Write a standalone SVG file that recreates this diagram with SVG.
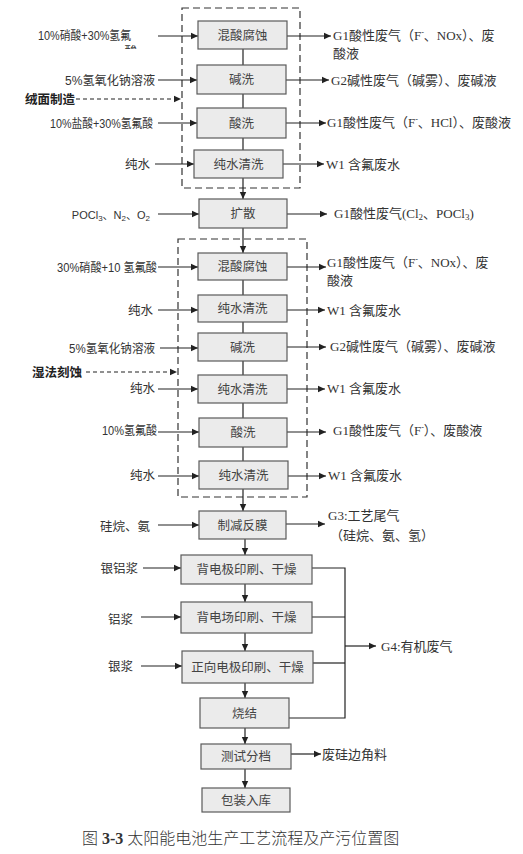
<svg xmlns="http://www.w3.org/2000/svg" width="523" height="854" viewBox="0 0 523 854">
<style>
.box{fill:#ebebeb;stroke:#5a5a5a;stroke-width:1.2}
.bt{font-family:"Liberation Sans","Noto Sans CJK SC",sans-serif;font-size:12.5px;fill:#444;text-anchor:middle}
.lt{font-family:"Liberation Sans","Noto Sans CJK SC",sans-serif;font-size:12.5px;fill:#333;text-anchor:end}
.rt{font-family:"Liberation Serif","Noto Sans CJK SC",serif;font-size:13px;fill:#333}
.bold{font-family:"Noto Sans CJK SC",sans-serif;font-size:12.5px;font-weight:bold;fill:#222}
.ln{stroke:#222;stroke-width:1.2;fill:none}
.ar{stroke:#222;stroke-width:1.2;fill:none;marker-end:url(#ah)}
.da{stroke:#222;stroke-width:1.2;fill:none;stroke-dasharray:4,3;marker-end:url(#ah)}
.dbox{stroke:#333;stroke-width:1.2;fill:none;stroke-dasharray:7,4}
.cap{font-family:"Liberation Serif","Noto Sans CJK SC",serif;font-size:16px;fill:#333;font-weight:300}
</style>
<defs>
<marker id="ah" markerWidth="8" markerHeight="8" refX="7" refY="4" orient="auto" markerUnits="userSpaceOnUse">
<path d="M0,0.8 L7,4 L0,7.2 Z" fill="#222"/>
</marker>
<clipPath id="clipfrag"><rect x="120" y="44" width="30" height="5"/></clipPath>
</defs>
<rect width="523" height="854" fill="#fff"/>

<g id="groups">
<rect class="dbox" x="182" y="8" width="118" height="180"/>
<rect class="dbox" x="178" y="239" width="129" height="258"/>
</g>

<g id="connectors">
<line class="ln" x1="243" y1="49" x2="243" y2="65"/>
<line class="ln" x1="243" y1="94" x2="243" y2="108"/>
<line class="ln" x1="243" y1="138" x2="243" y2="150"/>
<line class="ar" x1="243" y1="178" x2="243" y2="199"/>
<line class="ar" x1="243" y1="228" x2="243" y2="253"/>
<line class="ln" x1="243" y1="280" x2="243" y2="295"/>
<line class="ln" x1="243" y1="322" x2="243" y2="333"/>
<line class="ln" x1="243" y1="361" x2="243" y2="375"/>
<line class="ln" x1="243" y1="403" x2="243" y2="418"/>
<line class="ln" x1="243" y1="447" x2="243" y2="461"/>
<line class="ar" x1="243" y1="489" x2="243" y2="511"/>
<line class="ar" x1="245" y1="539" x2="245" y2="555"/>
<line class="ar" x1="245" y1="584" x2="245" y2="602"/>
<line class="ar" x1="245" y1="633" x2="245" y2="651"/>
<line class="ar" x1="245" y1="683" x2="245" y2="698"/>
<line class="ar" x1="245" y1="728" x2="245" y2="744"/>
<line class="ar" x1="245" y1="769" x2="245" y2="788"/>
<line class="ar" x1="158" y1="36" x2="198" y2="36"/>
<line class="ar" x1="158" y1="80" x2="197" y2="80"/>
<line class="da" x1="76" y1="99" x2="181" y2="99"/>
<line class="ar" x1="158" y1="123" x2="197" y2="123"/>
<line class="ar" x1="155" y1="164" x2="194" y2="164"/>
<line class="ar" x1="158" y1="214" x2="199" y2="214"/>
<line class="ar" x1="158" y1="267" x2="198" y2="267"/>
<line class="ar" x1="158" y1="310" x2="198" y2="310"/>
<line class="ar" x1="160" y1="348" x2="198" y2="348"/>
<line class="da" x1="86" y1="372" x2="177" y2="372"/>
<line class="ar" x1="158" y1="389" x2="198" y2="389"/>
<line class="ar" x1="158" y1="432" x2="199" y2="432"/>
<line class="ar" x1="158" y1="476" x2="199" y2="476"/>
<line class="ar" x1="158" y1="525" x2="199" y2="525"/>
<line class="ar" x1="143" y1="568" x2="181" y2="568"/>
<line class="ar" x1="141" y1="617" x2="181" y2="617"/>
<line class="ar" x1="141" y1="666" x2="182" y2="666"/>
<line class="ar" x1="287" y1="36" x2="331" y2="36"/>
<line class="ar" x1="286" y1="80" x2="329" y2="80"/>
<line class="ar" x1="286" y1="123" x2="326" y2="123"/>
<line class="ar" x1="283" y1="164" x2="324" y2="164"/>
<line class="ar" x1="287" y1="214" x2="327" y2="214"/>
<line class="ar" x1="287" y1="267" x2="326" y2="267"/>
<line class="ar" x1="287" y1="310" x2="325" y2="310"/>
<line class="ar" x1="287" y1="347" x2="326" y2="347"/>
<line class="ar" x1="287" y1="389" x2="325" y2="389"/>
<line class="ar" x1="287" y1="432" x2="326" y2="432"/>
<line class="ar" x1="288" y1="476" x2="326" y2="476"/>
<line class="ar" x1="286" y1="524" x2="325" y2="524"/>
<line class="ar" x1="291" y1="754" x2="321" y2="754"/>
<polyline class="ln" points="312,568 345,568 345,718 289,718"/>
<line class="ln" x1="312" y1="617" x2="345" y2="617"/>
<line class="ln" x1="313" y1="663" x2="345" y2="663"/>
<line class="ar" x1="345" y1="646" x2="376" y2="646"/>
</g>

<g id="n1"><rect class="box" x="198" y="21" width="89" height="28"/><text class="bt" x="242.5" y="39.5">混酸腐蚀</text></g>
<g id="n2"><rect class="box" x="197" y="65" width="89" height="29"/><text class="bt" x="241.5" y="84">碱洗</text></g>
<g id="n3"><rect class="box" x="197" y="108" width="89" height="30"/><text class="bt" x="241.5" y="127.5">酸洗</text></g>
<g id="n4"><rect class="box" x="194" y="150" width="89" height="28"/><text class="bt" x="238.5" y="168.5">纯水清洗</text></g>
<g id="n5"><rect class="box" x="199" y="199" width="88" height="29"/><text class="bt" x="243" y="218">扩散</text></g>
<g id="n6"><rect class="box" x="198" y="253" width="89" height="27"/><text class="bt" x="242.5" y="271">混酸腐蚀</text></g>
<g id="n7"><rect class="box" x="198" y="295" width="89" height="27"/><text class="bt" x="242.5" y="313">纯水清洗</text></g>
<g id="n8"><rect class="box" x="198" y="333" width="89" height="28"/><text class="bt" x="242.5" y="351.5">碱洗</text></g>
<g id="n9"><rect class="box" x="198" y="375" width="89" height="28"/><text class="bt" x="242.5" y="393.5">纯水清洗</text></g>
<g id="n10"><rect class="box" x="199" y="418" width="88" height="29"/><text class="bt" x="243" y="437">酸洗</text></g>
<g id="n11"><rect class="box" x="199" y="461" width="89" height="28"/><text class="bt" x="243.5" y="479.5">纯水清洗</text></g>
<g id="n12"><rect class="box" x="199" y="511" width="87" height="28"/><text class="bt" x="242.5" y="529.5">制减反膜</text></g>
<g id="n13"><rect class="box" x="181" y="555" width="131" height="29"/><text class="bt" x="246.5" y="574">背电极印刷、干燥</text></g>
<g id="n14"><rect class="box" x="181" y="602" width="131" height="31"/><text class="bt" x="246.5" y="622">背电场印刷、干燥</text></g>
<g id="n15"><rect class="box" x="182" y="651" width="131" height="32"/><text class="bt" x="247.5" y="671.5">正向电极印刷、干燥</text></g>
<g id="n16"><rect class="box" x="200" y="698" width="89" height="30"/><text class="bt" x="244.5" y="717.5">烧结</text></g>
<g id="n17"><rect class="box" x="201" y="744" width="90" height="25"/><text class="bt" x="246" y="761">测试分档</text></g>
<g id="n18"><rect class="box" x="202" y="788" width="88" height="24"/><text class="bt" x="246" y="804.5">包装入库</text></g>

<g id="inputs">
<text class="lt" x="131" y="40" textLength="93" lengthAdjust="spacingAndGlyphs">10%硝酸+30%氢氟</text>
<text class="lt" x="137" y="56" clip-path="url(#clipfrag)">酸</text>
<text class="lt" x="155" y="84.5" textLength="90" lengthAdjust="spacingAndGlyphs">5%氢氧化钠溶液</text>
<text class="bold" x="25" y="103.5" style="text-anchor:start">绒面制造</text>
<text class="lt" x="153" y="127.5" textLength="103" lengthAdjust="spacingAndGlyphs">10%盐酸+30%氢氟酸</text>
<text class="lt" x="150" y="168.5">纯水</text>
<text class="lt" x="150" y="218.5" style="font-size:11px">POCl<tspan font-size="8" dy="2">3</tspan><tspan dy="-2">、N</tspan><tspan font-size="8" dy="2">2</tspan><tspan dy="-2">、O</tspan><tspan font-size="8" dy="2">2</tspan></text>
<text class="lt" x="157" y="272" textLength="100" lengthAdjust="spacingAndGlyphs">30%硝酸+10 氢氟酸</text>
<text class="lt" x="153" y="315">纯水</text>
<text class="lt" x="155" y="353" textLength="86" lengthAdjust="spacingAndGlyphs">5%氢氧化钠溶液</text>
<text class="bold" x="32" y="376.5" style="text-anchor:start">湿法刻蚀</text>
<text class="lt" x="155" y="393">纯水</text>
<text class="lt" x="157" y="435" textLength="55" lengthAdjust="spacingAndGlyphs">10%氢氟酸</text>
<text class="lt" x="155" y="480">纯水</text>
<text class="lt" x="150" y="531">硅烷、氨</text>
<text class="lt" x="138" y="573">银铝浆</text>
<text class="lt" x="133" y="624">铝浆</text>
<text class="lt" x="133" y="671">银浆</text>
</g>

<g id="outputs">
<text class="rt" x="333" y="40">G1酸性废气（F<tspan font-size="8" dy="-5">-</tspan><tspan dy="5">、NOx）、废</tspan></text>
<text class="rt" x="333" y="58">酸液</text>
<text class="rt" x="331" y="85">G2碱性废气（碱雾）、废碱液</text>
<text class="rt" x="327" y="127">G1酸性废气（F<tspan font-size="8" dy="-5">-</tspan><tspan dy="5">、HCl）、废酸液</tspan></text>
<text class="rt" x="326" y="169">W1 含氟废水</text>
<text class="rt" x="334" y="218">G1酸性废气(Cl<tspan font-size="9" dy="2">2</tspan><tspan dy="-2">、POCl</tspan><tspan font-size="9" dy="2">3</tspan><tspan dy="-2">)</tspan></text>
<text class="rt" x="327" y="267">G1酸性废气（F<tspan font-size="8" dy="-5">-</tspan><tspan dy="5">、NOx）、废</tspan></text>
<text class="rt" x="327" y="285">酸液</text>
<text class="rt" x="327" y="315">W1 含氟废水</text>
<text class="rt" x="330" y="351">G2碱性废气（碱雾）、废碱液</text>
<text class="rt" x="327" y="393">W1 含氟废水</text>
<text class="rt" x="333" y="435">G1酸性废气（F<tspan font-size="8" dy="-5">-</tspan><tspan dy="5">）、废酸液</tspan></text>
<text class="rt" x="328" y="480">W1 含氟废水</text>
<text class="rt" x="328" y="520">G3:工艺尾气</text>
<text class="rt" x="330" y="540">（硅烷、氨、氢）</text>
<text class="rt" x="381" y="651">G4:有机废气</text>
<text class="rt" x="322" y="759">废硅边角料</text>
</g>

<g id="caption">
<text class="cap" x="82" y="844">图 <tspan font-weight="bold">3-3</tspan> 太阳能电池生产工艺流程及产污位置图</text>
</g>
</svg>
